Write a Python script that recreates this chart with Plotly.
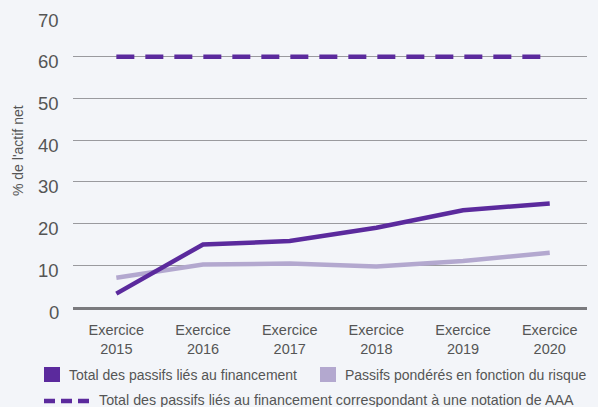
import plotly.graph_objects as go

years = ["2015", "2016", "2017", "2018", "2019", "2020"]
tick_labels = ["Exercice<br>" + y for y in years]
x_pos = [0, 1, 2, 3, 4, 5]
y_ticks = [0, 10, 20, 30, 40, 50, 60, 70]

total_financement = [3.2, 15.0, 15.8, 19.0, 23.2, 24.8]
ponderes_risque = [7.0, 10.2, 10.4, 9.7, 11.0, 13.0]
seuil_aaa = [60, 60, 60, 60, 60, 60]

names = [
    "Total des passifs liés au financement",
    "Passifs pondérés en fonction du risque",
    "Total des passifs liés au financement correspondant à une notation de AAA",
]

DARK = "#5b2a9d"
LIGHT = "#b3a8cf"
BG = "#f3f5f9"
TXT = "#555555"
FONT = "Liberation Sans, Arial, sans-serif"

L, R, T, B = 73, 11, 15, 100
W, H = 598, 407

fig = go.Figure()
fig.add_trace(go.Scatter(x=x_pos, y=seuil_aaa, mode="lines", name=names[2],
                         line=dict(color=DARK, width=4.5, dash="18px,11px"),
                         showlegend=False))
fig.add_trace(go.Scatter(x=x_pos, y=ponderes_risque, mode="lines", name=names[1],
                         line=dict(color=LIGHT, width=4.5), showlegend=False))
fig.add_trace(go.Scatter(x=x_pos, y=total_financement, mode="lines", name=names[0],
                         line=dict(color=DARK, width=4.5), showlegend=False))

fig.update_layout(
    width=W, height=H,
    margin=dict(l=L, r=R, t=T, b=B),
    paper_bgcolor=BG, plot_bgcolor=BG,
    font=dict(family=FONT, color=TXT),
    # the x axis line doubles as the heavier baseline at zero
    xaxis=dict(range=[-0.5, 5.43], tickvals=x_pos, ticktext=tick_labels,
               showgrid=False, zeroline=False,
               showline=True, linecolor="#7a7a7e", linewidth=2.5,
               tickfont=dict(size=14.5, color=TXT), ticklabelstandoff=8),
    yaxis=dict(range=[0, 70], tickvals=y_ticks, showticklabels=False,
               showgrid=True, gridcolor="#9a9a9e", gridwidth=1,
               zeroline=False, showline=False),
)

# y tick labels, set slightly below their gridlines
for v in y_ticks:
    fig.add_annotation(text=str(v), xref="paper", yref="y", x=-12 / (W - L - R), y=v,
                       xanchor="right", yanchor="middle", yshift=-5, showarrow=False,
                       font=dict(size=18.5, color=TXT, family=FONT))


def px_x(px):
    return (px - L) / (W - L - R)


def px_y(py):
    return (H - B - py) / (H - B - T)


# axis title
fig.add_annotation(text="% de l'actif net", xref="paper", yref="paper",
                   x=px_x(18), y=px_y(151), textangle=-90, showarrow=False,
                   xanchor="center", yanchor="middle",
                   font=dict(size=14, color=TXT, family=FONT))

# legend: filled squares and a dashed line with labels
fig.add_shape(type="rect", xref="paper", yref="paper",
              x0=px_x(44), x1=px_x(60), y0=px_y(382), y1=px_y(367),
              fillcolor=DARK, line=dict(width=0))
fig.add_annotation(text=names[0], xref="paper", yref="paper",
                   x=px_x(67), y=px_y(375), xanchor="left", yanchor="middle",
                   showarrow=False, font=dict(size=14, color=TXT, family=FONT))
fig.add_shape(type="rect", xref="paper", yref="paper",
              x0=px_x(320), x1=px_x(336), y0=px_y(382), y1=px_y(367),
              fillcolor=LIGHT, line=dict(width=0))
fig.add_annotation(text=names[1], xref="paper", yref="paper",
                   x=px_x(343), y=px_y(375), xanchor="left", yanchor="middle",
                   showarrow=False, font=dict(size=14, color=TXT, family=FONT))
fig.add_shape(type="line", xref="paper", yref="paper",
              x0=px_x(44), x1=px_x(89), y0=px_y(401), y1=px_y(401),
              line=dict(color=DARK, width=4.5, dash="11px,6px"))
fig.add_annotation(text=names[2], xref="paper", yref="paper",
                   x=px_x(97), y=px_y(400), xanchor="left", yanchor="middle",
                   showarrow=False, font=dict(size=14.3, color=TXT, family=FONT))

fig.write_html("out.html")
